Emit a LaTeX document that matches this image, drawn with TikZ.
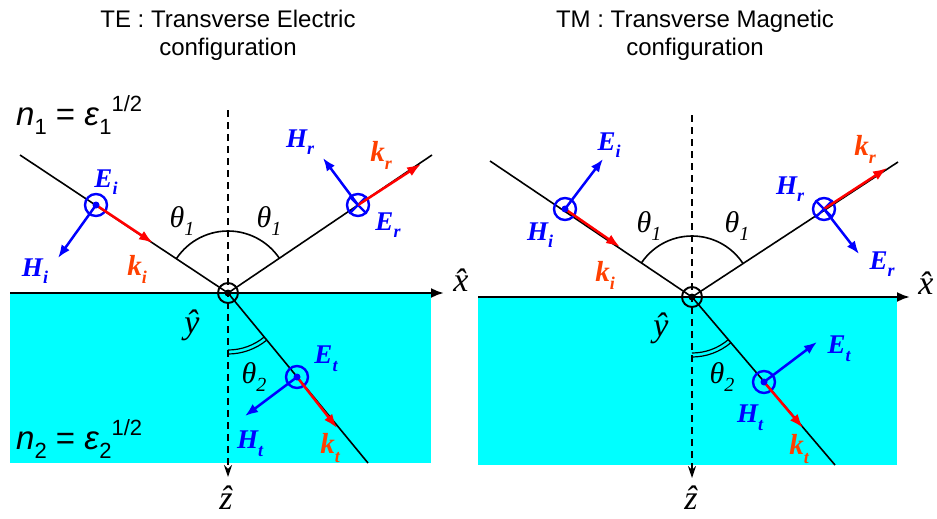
\documentclass[tikz,border=0pt]{standalone}
\usepackage{fontspec}
\setmainfont{Liberation Sans}
\newfontfamily\tms{Liberation Serif}
\usetikzlibrary{arrows.meta}
\definecolor{korange}{RGB}{255,64,0}
\definecolor{cyanfill}{RGB}{0,255,255}
\newcommand\fl[2]{#1\raisebox{-0.28em}{\fontsize{18}{18}\selectfont #2}}
\newcommand\thl[1]{{\tms\itshape θ\raisebox{-0.25em}{\fontsize{20}{20}\selectfont #1}}}
\newcommand\hl[1]{{\tms\itshape #1^^^^0302}}
\begin{document}
\begin{tikzpicture}[x=1pt,y=-1pt,
  ray/.style={black, line width=1.6pt},
  axisl/.style={black, line width=2.4pt, -{Latex[length=13pt,width=10pt]}},
  normal/.style={black, line width=1.6pt, dash pattern=on 7pt off 5pt, -{Stealth[length=12pt,width=8pt]}},
  vecb/.style={blue, line width=2.5pt, -{Latex[length=13pt,width=10pt]}},
  veck/.style={red, line width=2.5pt, -{Latex[length=14pt,width=10pt]}},
  fcirc/.style={circle, draw=blue, line width=2.4pt, minimum size=22pt, inner sep=0pt},
  ocirc/.style={circle, draw=black, line width=1.9pt, minimum size=20pt, inner sep=0pt},
  blab/.style={text=blue, inner sep=0pt, font=\tms\bfseries\itshape\fontsize{27}{27}\selectfont},
  klab/.style={text=korange, inner sep=0pt, font=\tms\bfseries\itshape\fontsize{29}{29}\selectfont},
  tlab/.style={inner sep=0pt, font=\fontsize{30}{30}\selectfont},
  hlab/.style={inner sep=0pt, font=\fontsize{34}{34}\selectfont},
  title/.style={align=center, inner sep=0pt, font=\fontsize{24}{28}\selectfont},
  nlab/.style={inner sep=0pt, anchor=base west, font=\fontsize{33}{33}\selectfont}
]
\useasboundingbox (0,0) rectangle (937,519);

% ================= LEFT: TE =================
\node[title] (tte) at (228,35) {TE : Transverse Electric\\configuration};
\fill[cyanfill] (10,293) rectangle (431,463);
\coordinate (LO) at (228,293);
\coordinate (LxA) at (10,293);
\coordinate (LxB) at (444,293);
\coordinate (LzA) at (228,110);
\coordinate (LzB) at (228,477);
\coordinate (LA) at (20,155);
\coordinate (LB) at (432,155);
\coordinate (LT) at (368,463);
\draw[axisl] (LxA) -- (LxB);
\draw[normal] (LzA) -- (LzB);
\draw[ray] (LA) -- (LO);
\draw[ray] (LO) -- (LB);
\draw[ray] (LO) -- (LT);
\draw[black, line width=1.6pt] (LO) ++(-146.4:62) arc[start angle=-146.4, end angle=-34.1, radius=62];
\draw[black, line width=1.2pt] (LO) ++(50.5:57) arc[start angle=50.5, end angle=90, radius=57];
\draw[black, line width=1.2pt] (LO) ++(50.5:61) arc[start angle=50.5, end angle=90, radius=61];
\node[ocirc] (Lo) at (LO) {};
\fill[black] (Lo.center) circle (3.5);

\node[fcirc] (Lc1) at (96,205) {};
\coordinate (Lki) at (153,243);
\coordinate (Lhi) at (58,258);
\draw[veck] (Lc1.center) -- (Lki);
\draw[vecb] (Lc1.center) -- (Lhi);
\fill[blue] (Lc1.center) circle (3.5);

\node[fcirc] (Lc2) at (358,205) {};
\draw[blue, line width=2.4pt] (Lc2.north west) -- (Lc2.south east);
\draw[blue, line width=2.4pt] (Lc2.north east) -- (Lc2.south west);
\coordinate (Lkr) at (421,164);
\coordinate (Lhr) at (323,158);
\draw[veck] (Lc2.center) -- (Lkr);
\draw[vecb] (Lc2.center) -- (Lhr);

\node[fcirc] (Lc3) at (297,377) {};
\coordinate (Lkt) at (337,428);
\coordinate (Lht) at (245,416);
\draw[veck] (Lc3.center) -- (Lkt);
\draw[vecb] (Lc3.center) -- (Lht);
\fill[blue] (Lc3.center) circle (3.5);

\node[blab] (LEi) at (106,182) {\fl{E}{i}};
\node[blab] (LHi) at (35,271) {\fl{H}{i}};
\node[klab] (Lkil) at (137,269) {\fl{k}{i}};
\node[blab] (LHr) at (300,142) {\fl{H}{r}};
\node[klab] (Lkrl) at (381,155) {\fl{k}{r}};
\node[blab] (LEr) at (388,225) {\fl{E}{r}};
\node[blab] (LEt) at (326,359) {\fl{E}{t}};
\node[blab] (LHt) at (250,444) {\fl{H}{t}};
\node[klab] (Lktl) at (330,448) {\fl{k}{t}};
\node[tlab] (Lth1a) at (182,221) {\thl{1}};
\node[tlab] (Lth1b) at (269,221) {\thl{1}};
\node[tlab] (Lth2) at (254,377) {\thl{2}};
\node[hlab] (Lx) at (461,280) {\hl{x}};
\node[hlab] (Ly) at (192,325) {\hl{y}};
\node[hlab] (Lz) at (226,498) {\hl{z}};
\node[nlab] (Ln1) at (16,125) {\textit{n}\raisebox{-0.3em}{\fontsize{22}{22}\selectfont 1} = \textit{ε}\raisebox{-0.3em}{\fontsize{22}{22}\selectfont 1}\raisebox{0.42em}{\fontsize{22}{22}\selectfont 1/2}};
\node[nlab] (Ln2) at (16,449) {\textit{n}\raisebox{-0.3em}{\fontsize{22}{22}\selectfont 2} = \textit{ε}\raisebox{-0.3em}{\fontsize{22}{22}\selectfont 2}\raisebox{0.42em}{\fontsize{22}{22}\selectfont 1/2}};

% ================= RIGHT: TM =================
\node[title] (ttm) at (695,35) {TM : Transverse Magnetic\\configuration};
\fill[cyanfill] (478,297) rectangle (897,465);
\coordinate (RO) at (692,297);
\coordinate (RxA) at (478,297);
\coordinate (RxB) at (910,297);
\coordinate (RzA) at (692,115);
\coordinate (RzB) at (692,478);
\coordinate (RA) at (490,161);
\coordinate (RB) at (898,162);
\coordinate (RT) at (835,465);
\draw[axisl] (RxA) -- (RxB);
\draw[normal] (RzA) -- (RzB);
\draw[ray] (RA) -- (RO);
\draw[ray] (RO) -- (RB);
\draw[ray] (RO) -- (RT);
\draw[black, line width=1.6pt] (RO) ++(-146.0:61) arc[start angle=-146.0, end angle=-33.2, radius=61];
\draw[black, line width=1.2pt] (RO) ++(49.6:56) arc[start angle=49.6, end angle=90, radius=56];
\draw[black, line width=1.2pt] (RO) ++(49.6:60) arc[start angle=49.6, end angle=90, radius=60];
\node[ocirc] (Ro) at (RO) {};
\fill[black] (Ro.center) circle (3.5);

\node[fcirc] (Rc1) at (565,209) {};
\coordinate (Rki) at (620,247);
\coordinate (Rei) at (603,159);
\draw[veck] (Rc1.center) -- (Rki);
\draw[vecb] (Rc1.center) -- (Rei);
\fill[blue] (Rc1.center) circle (3.5);

\node[fcirc] (Rc2) at (824,209) {};
\draw[blue, line width=2.4pt] (Rc2.north west) -- (Rc2.south east);
\draw[blue, line width=2.4pt] (Rc2.north east) -- (Rc2.south west);
\coordinate (Rkr) at (887,168);
\coordinate (Rer) at (859,254);
\draw[veck] (Rc2.center) -- (Rkr);
\draw[vecb] (Rc2.center) -- (Rer);

\node[fcirc] (Rc3) at (764,382) {};
\coordinate (Rkt) at (803,428);
\coordinate (Ret) at (817,342);
\draw[veck] (Rc3.center) -- (Rkt);
\draw[vecb] (Rc3.center) -- (Ret);
\fill[blue] (Rc3.center) circle (3.5);

\node[blab] (REi) at (609,145) {\fl{E}{i}};
\node[blab] (RHi) at (540,235) {\fl{H}{i}};
\node[klab] (Rkil) at (605,275) {\fl{k}{i}};
\node[blab] (RHr) at (790,189) {\fl{H}{r}};
\node[klab] (Rkrl) at (865,149) {\fl{k}{r}};
\node[blab] (REr) at (882,264) {\fl{E}{r}};
\node[blab] (REt) at (839,349) {\fl{E}{t}};
\node[blab] (RHt) at (750,418) {\fl{H}{t}};
\node[klab] (Rktl) at (799,449) {\fl{k}{t}};
\node[tlab] (Rth1a) at (649,226) {\thl{1}};
\node[tlab] (Rth1b) at (737,226) {\thl{1}};
\node[tlab] (Rth2) at (722,377) {\thl{2}};
\node[hlab] (Rx) at (926,283) {\hl{x}};
\node[hlab] (Ry) at (661,328) {\hl{y}};
\node[hlab] (Rz) at (691,498) {\hl{z}};
\end{tikzpicture}
\end{document}
